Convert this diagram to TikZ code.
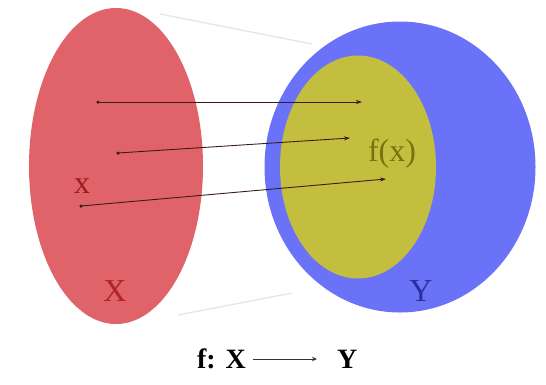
\documentclass[tikz,border=0pt]{standalone}
\usepackage{fontspec}
\setmainfont{Liberation Serif}
\usetikzlibrary{shapes.geometric,arrows.meta}
\definecolor{setred}{HTML}{E0636A}
\definecolor{setblue}{HTML}{6A72F8}
\definecolor{setyellow}{HTML}{C4BE3F}
\definecolor{lblx}{HTML}{9A1C1C}
\definecolor{lblX}{HTML}{B02424}
\definecolor{lblfx}{HTML}{7A7010}
\definecolor{lblY}{HTML}{2A309E}
\definecolor{arrowcol}{HTML}{3A1C1C}
\definecolor{faint}{HTML}{E4E4E4}
\tikzset{
  setshape/.style={ellipse, inner sep=0pt, draw=none},
  maparrow/.style={draw=arrowcol, line width=0.9pt, -{Stealth[length=6pt,width=4pt]}},
  startdot/.style={circle, fill=arrowcol, inner sep=0pt, minimum size=3.5pt},
  biglabel/.style={font=\fontsize{32}{36}\selectfont, inner sep=0pt},
  faintline/.style={draw=faint, line width=1.2pt},
  captext/.style={font=\fontsize{28}{32}\selectfont\bfseries, inner sep=0pt}
}
\begin{document}
\begin{tikzpicture}[x=1pt,y=-1pt]
\useasboundingbox (0,0) rectangle (546,384);
% faint tangent lines
\coordinate (t1) at (160,14);
\coordinate (t2) at (312,44);
\coordinate (b1) at (178,315);
\coordinate (b2) at (292,293);
\draw[faintline] (t1) -- (t2);
\draw[faintline] (b1) -- (b2);
% sets
\node[setshape, fill=setred, minimum width=174pt, minimum height=316pt] (X) at (116,166) {};
\node[setshape, fill=setblue, minimum width=271pt, minimum height=291pt] (Ycirc) at (400,167) {};
\node[setshape, fill=setyellow, minimum width=156pt, minimum height=223pt] (fX) at (358,167) {};
% labels
\node[biglabel, text=lblx] (xl) at (82,186) {x};
\node[biglabel, text=lblX] (Xl) at (115,291) {X};
\node[biglabel, text=lblfx] (fxl) at (392,154) {f(x)};
\node[biglabel, text=lblY] (Yl) at (421,291) {Y};
% arrows
\node[startdot] (s1) at (98,102) {};
\node[startdot] (s2) at (118,153) {};
\node[startdot] (s3) at (81,206) {};
\coordinate (e1) at (362,102);
\coordinate (e2) at (350,138);
\coordinate (e3) at (386,179);
\draw[maparrow] (s1.center) -- (e1);
\draw[maparrow] (s2.center) -- (e2);
\draw[maparrow] (s3.center) -- (e3);
% caption
\node[captext, anchor=base east] (cf) at (246,368) {f:\hspace{0.35em}X};
\node[captext, anchor=base west] (cy) at (337,368) {Y};
\coordinate (ca) at (253,359);
\coordinate (cb) at (317,359);
\draw[draw=black!80, line width=0.9pt, -{Stealth[length=5pt,width=4.5pt]}] (ca) -- (cb);
\end{tikzpicture}
\end{document}
